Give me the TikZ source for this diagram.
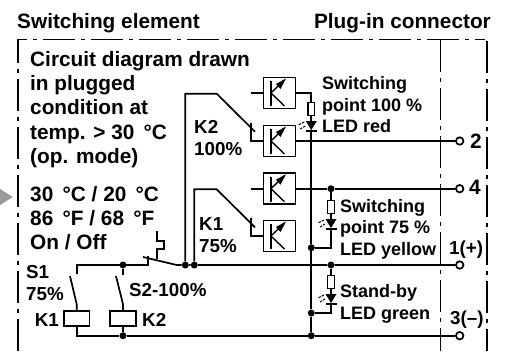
\documentclass[tikz,border=0pt]{standalone}
\usepackage{fontspec}
\setmainfont{Liberation Sans}
\usetikzlibrary{calc}
\newcommand{\sensorbox}[3]{% name, x, y of box centre
  \node[box node] (#1) at (#2,#3) {};
  \draw[sensor line] (#2-8.6,#3-12) -- (#2-8.6,#3+13);
  \draw[sensor line] (#2-8.6,#3) -- (#2+5,#3-13);
  \draw[sensor line] (#2-8.6,#3) -- (#2+5,#3+13);
  \fill (#2+6.5,#3-14.5) -- (#2-3.5,#3-9) -- (#2+1,#3-4) -- cycle;
}
\newcommand{\ledsym}[3]{% name, x, y of triangle top
  \node[res node] (#1res) at (#2,#3-12) {};
  \coordinate (#1in) at (#2,#3);
  \coordinate (#1out) at (#2,#3+10);
  \fill (#2-5.5,#3) -- (#2+5.5,#3) -- (#2,#3+9) -- cycle;
  \draw[wire] (#2-5.5,#3+10) -- (#2+5.5,#3+10);
  \draw[ray line] (#2-7,#3+1) -- (#2-13,#3+4);
  \draw[ray line] (#2-6,#3+5) -- (#2-11,#3+8);
}
\begin{document}
\begin{tikzpicture}[x=1pt,y=-1pt,
  wire/.style={line width=1.7pt},
  sensor line/.style={line width=1.4pt},
  ray line/.style={line width=1pt,dash pattern=on 2.5pt off 1pt},
  frame line/.style={line width=1.8pt,dash pattern=on 32pt off 6pt on 4pt off 6pt},
  box node/.style={rectangle,draw,line width=1.7pt,minimum width=32pt,minimum height=31pt,inner sep=0pt},
  res node/.style={rectangle,draw,fill=white,line width=1.4pt,minimum width=6.5pt,minimum height=13.5pt,inner sep=0pt},
  coil node/.style={rectangle,draw,fill=white,line width=1.7pt,minimum width=25.5pt,minimum height=15pt,inner sep=0pt},
  dot node/.style={circle,fill,minimum size=7pt,inner sep=0pt},
  term node/.style={circle,draw,fill=white,line width=1.7pt,minimum size=7.5pt,inner sep=0pt},
  head node/.style={anchor=base west,inner sep=0pt,font=\fontsize{20.8}{24.2}\selectfont\bfseries,align=left},
  led node/.style={anchor=base west,inner sep=0pt,font=\fontsize{18}{21.5}\selectfont\bfseries,align=left},
  small node/.style={anchor=base west,inner sep=0pt,font=\fontsize{18.8}{21.5}\selectfont\bfseries,align=left}]
  \useasboundingbox (0,0) rectangle (508,351);
  % frame
  \draw[frame line] (18,351) -- (18,39.5) -- (485,39.5);
  \draw[frame line] (440.5,39.5) -- (440.5,351);
  \draw[frame line] (487,41) -- (487,351);
  \fill[black!40] (0,189) -- (12.7,197) -- (0,205) -- cycle;
  % headings
  \node[head node] (title1) at (17,28) {Switching element};
  \node[head node,anchor=base east] (title2) at (491,28) {Plug-in connector};
  \node[head node] (note) at (30,163.3) {Circuit diagram drawn\\in plugged\\condition at\\temp. > 30 \,°C\\(op. mode)};
  \node[head node] (temps) at (30,249.5) {30 \,°C / 20 \,°C\\86 \,°F / 68 \,°F\\On / Off};
  % sensors
  \sensorbox{b1}{279.5}{93}
  \sensorbox{b2}{279.5}{141}
  \sensorbox{b3}{279.5}{188.7}
  \sensorbox{b4}{279.5}{236}
  % terminals
  \node[term node] (t2) at (459.7,141) {};
  \node[term node] (t4) at (459.7,188.7) {};
  \node[term node] (t1) at (459.7,265) {};
  \node[term node] (t3) at (459.7,335.7) {};
  \node[head node] (t2lab) at (470,148) {2};
  \node[head node] (t4lab) at (469,194.3) {4};
  \node[small node] (t1lab) at (449,254) {1(+)};
  \node[small node] (t3lab) at (450,324) {3(--)};
  % junctions
  \node[dot node] (d1) at (123,265) {};
  \node[dot node] (d2) at (185.3,265) {};
  \node[dot node] (d3) at (194.3,265) {};
  \node[dot node] (d4) at (331,265) {};
  \node[dot node] (d5) at (331,188.7) {};
  \node[dot node] (d6) at (311.3,247.7) {};
  \node[dot node] (d7) at (311.3,313) {};
  \node[dot node] (d8) at (311.3,335.7) {};
  \node[dot node] (d9) at (123,335.7) {};
  % LEDs
  \ledsym{l1}{311.3}{121}
  \ledsym{l2}{331}{219}
  \ledsym{l3}{331}{294}
  \node[led node] (l1lab) at (322,132.7) {Switching\\point 100 \%\\LED red};
  \node[led node] (l2lab) at (340,255) {Switching\\point 75 \%\\LED yellow};
  \node[led node] (l3lab) at (340,319.3) {Stand-by\\LED green};
  % coils
  \node[coil node] (k1) at (76.7,318.7) {};
  \node[coil node] (k2) at (123,318.7) {};
  \node[small node,anchor=base east] (k1lab) at (59,326) {K1};
  \node[small node] (k2lab) at (142,326) {K2};
  \node[small node] (s1lab) at (26,300) {S1\\75\%};
  \node[small node] (s2lab) at (129,296.7) {S2-100\%};
  \node[small node] (kt2lab) at (194,155) {K2\\100\%};
  \node[small node] (kt1lab) at (199,252) {K1\\75\%};
  % corners
  \coordinate (c1) at (185.3,93.7);
  \coordinate (c2) at (216.7,93.7);
  \coordinate (c3) at (255,131.7);
  \coordinate (c4) at (250.7,123);
  \coordinate (c5) at (194.3,189.3);
  \coordinate (c6) at (216.7,189.3);
  \coordinate (c7) at (255,227.3);
  \coordinate (c8) at (250.7,218);
  \coordinate (c9) at (76.7,274);
  \coordinate (c10) at (148.3,265);
  \coordinate (c11) at (148.3,256);
  \coordinate (c12) at (143,257);
  \coordinate (c13) at (176.7,265);
  \coordinate (s1a) at (70,276);
  \coordinate (s1b) at (76.7,304.3);
  \coordinate (s2a) at (116,276);
  \coordinate (s2b) at (123,304.3);
  \coordinate (s2c) at (123,275);
  \coordinate (g1) at (251,93);
  \coordinate (g3) at (251,188.7);
  \coordinate (cb) at (76.7,335.7);
  \draw[wire] (d2) -- (c1) -- (c2) -- (c3);
  \draw[wire] (c4) |- (b2.west);
  \draw[wire] (d3) -- (c5) -- (c6) -- (c7);
  \draw[wire] (c8) |- (b4.west);
  \draw[wire] (g1) -- (b1.west);
  \draw[wire] (g3) -- (b3.west);
  \draw[wire] (c9) |- (d1.center) -- (c10) -- (c11);
  \draw[wire] (c12) -- (c13) -- (d2) -- (d3) -- (d4) -- (t1);
  \draw[wire] (d1) -- (s2c);
  \draw[wire] (s1a) -- (s1b) -- (k1);
  \draw[wire] (s2a) -- (s2b) -- (k2);
  \draw[wire] (k1) -- (cb) -- (d9) -- (d8) -- (t3);
  \draw[wire] (k2) -- (d9);
  \draw[wire] (156.7,231) -- (156.7,241) -- (164,241) -- (164,248.7) -- (156.7,248.7) -- (156.7,259);
  \draw[wire] (b2.east) -- (t2);
  \draw[wire] (b3.east) -- (d5) -- (t4);
  \draw[wire] (b1.east) -| (l1res);
  \draw[wire] (l1res) -- (l1in);
  \draw[wire] (l1out) -- (d6) -- (d7) -- (d8);
  \draw[wire] (d5) -- (l2res);
  \draw[wire] (l2res) -- (l2in);
  \draw[wire] (l2out) |- (d6);
  \draw[wire] (d4) -- (l3res);
  \draw[wire] (l3res) -- (l3in);
  \draw[wire] (l3out) |- (d7);
\end{tikzpicture}
\end{document}
